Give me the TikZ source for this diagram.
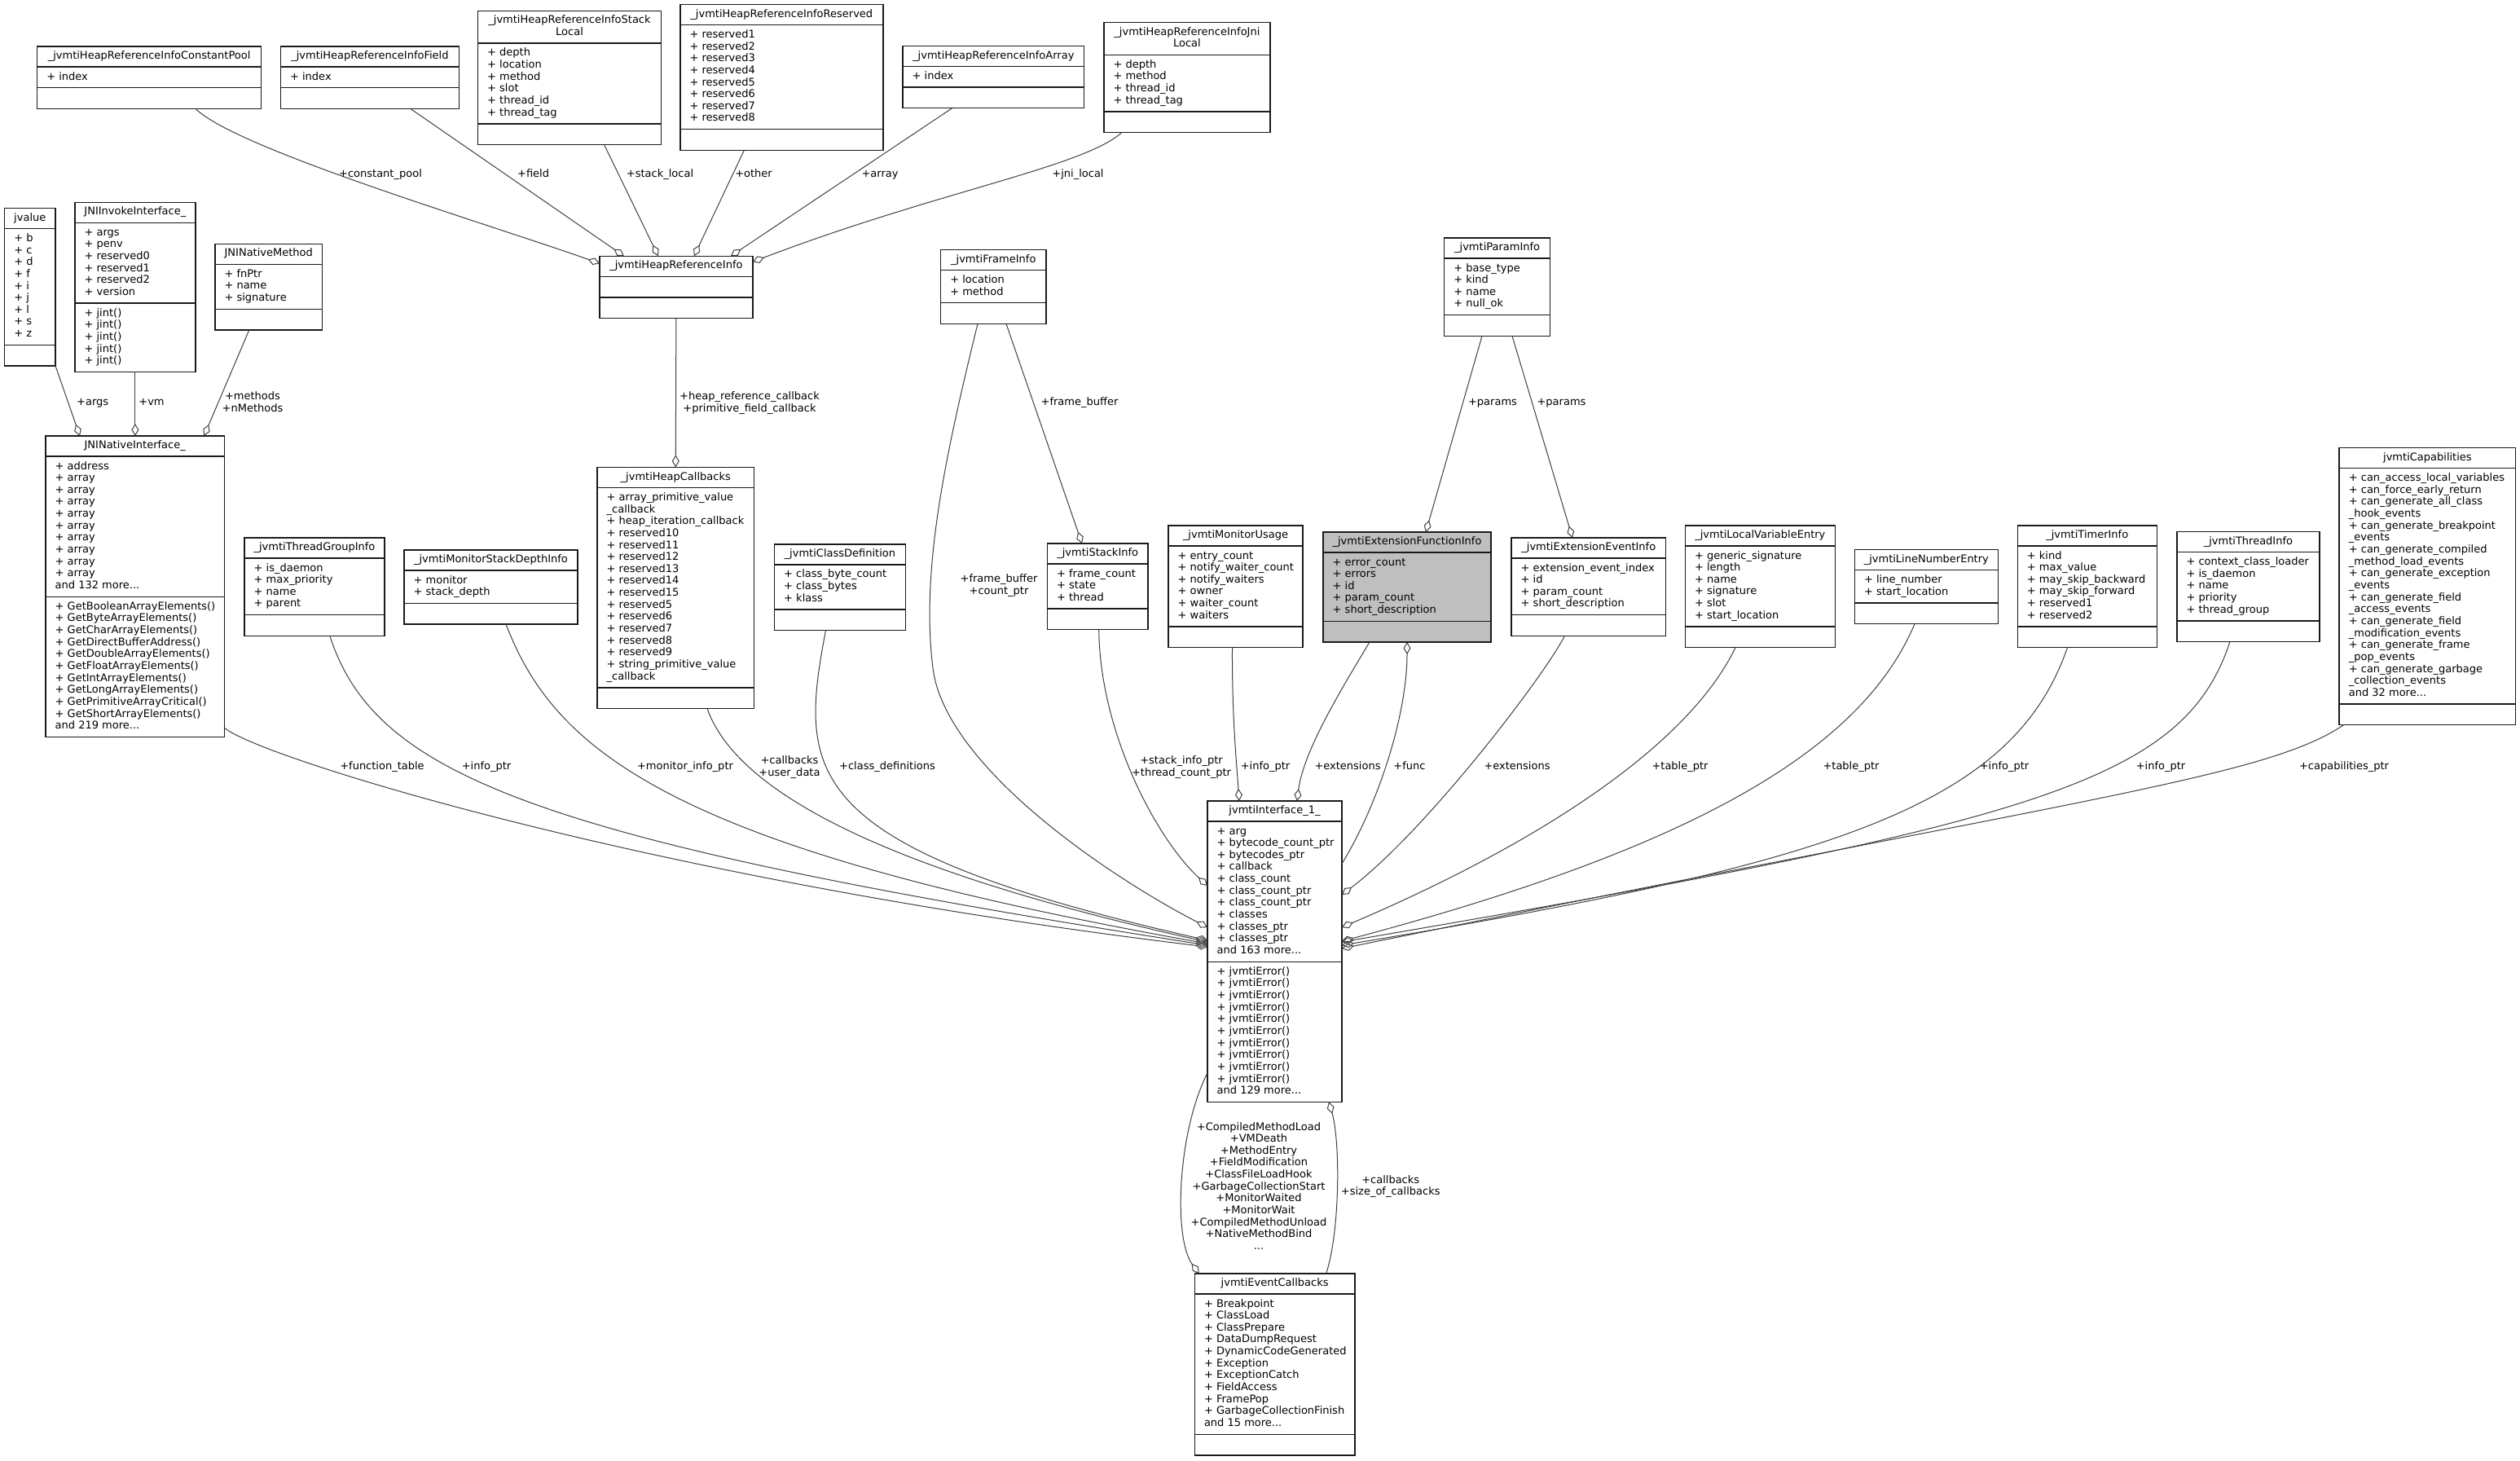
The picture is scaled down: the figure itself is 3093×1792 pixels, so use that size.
\documentclass[tikz,border=0pt]{standalone}
\usepackage{fontspec}
\setmainfont{DejaVu Sans}
\usetikzlibrary{arrows.meta}
\definecolor{edgecol}{HTML}{404040}
\definecolor{boxcol}{HTML}{1A1A1A}
\definecolor{hlfill}{HTML}{BFBFBF}
\newcommand{\umlfont}{\fontsize{13}{14.65}\selectfont}
\tikzset{
  classbox/.style={draw=boxcol, line width=1.4pt, inner sep=0pt, outer sep=0pt},
  sepline/.style={draw=boxcol, line width=1.4pt},
  ctitle/.style={inner sep=0pt, align=center, font=\umlfont},
  cbody/.style={inner sep=0pt, align=left, font=\umlfont, anchor=north west},
  elabel/.style={inner sep=0pt, align=center, font=\umlfont, execute at begin node=\strut, execute at end node=\strut},
  agg/.style={draw=edgecol, line width=1pt, -{Diamond[open, length=15pt, width=9pt]}},
}
\newcommand{\umlclass}[9]{%
  \def\uName{#1}\def\uX{#2}\def\uY{#3}\def\uW{#4}\def\uTL{#5}\def\uTitle{#6}\def\uNA{#7}\def\uAttrs{#8}\def\uNO{#9}%
  \umlclassfinish}
\newcommand{\umlclassfinish}[2][]{%
  \pgfmathsetmacro\uHT{\uTL*14.65+10.4}%
  \pgfmathsetmacro\uHA{max(\uNA,1)*14.65+11}%
  \pgfmathsetmacro\uHO{max(\uNO,1)*14.65+11}%
  \pgfmathsetmacro\uH{\uHT+\uHA+\uHO}%
  \pgfmathsetmacro\uHTA{\uHT+\uHA}%
  \pgfmathsetmacro\uOA{\uHT+5.5}%
  \pgfmathsetmacro\uOB{\uHTA+5.5}%
  \node[classbox, fill=white, #1, minimum width=\uW pt, minimum height=\uH pt, anchor=north west] (\uName) at (\uX,\uY) {};
  \draw[sepline] ([yshift=-\uHT pt]\uName.north west) -- ([yshift=-\uHT pt]\uName.north east);
  \draw[sepline] ([yshift=-\uHTA pt]\uName.north west) -- ([yshift=-\uHTA pt]\uName.north east);
  \node[ctitle, anchor=north] at ([yshift=-5.2pt]\uName.north) {\strut\uTitle\strut};
  \ifnum\uNA>0\relax \node[cbody] at ([xshift=11.5pt,yshift=-\uOA pt]\uName.north west) {\strut\uAttrs\strut};\fi
  \ifnum\uNO>0\relax \node[cbody] at ([xshift=11.5pt,yshift=-\uOB pt]\uName.north west) {\strut#2\strut};\fi
}
\begin{document}
\catcode`\_=12
\begin{tikzpicture}[x=1pt,y=-1pt]
\fill[white] (0,0) rectangle (3093,1792);
\useasboundingbox (0,0) rectangle (3093,1792);

% ---------- classes ----------
\umlclass{cpool}{45.6}{57}{275}{1}{_jvmtiHeapReferenceInfoConstantPool}{1}{+ index}{0}{}
\umlclass{hfield}{344.4}{57}{219}{1}{_jvmtiHeapReferenceInfoField}{1}{+ index}{0}{}
\umlclass{stackl}{586.5}{13.2}{225}{2}{_jvmtiHeapReferenceInfoStack\\Local}{6}{+ depth\\+ location\\+ method\\+ slot\\+ thread_id\\+ thread_tag}{0}{}
\umlclass{hres}{834.8}{5.4}{249}{1}{_jvmtiHeapReferenceInfoReserved}{8}{+ reserved1\\+ reserved2\\+ reserved3\\+ reserved4\\+ reserved5\\+ reserved6\\+ reserved7\\+ reserved8}{0}{}
\umlclass{harray}{1108}{56.4}{222.6}{1}{_jvmtiHeapReferenceInfoArray}{1}{+ index}{0}{}
\umlclass{jnil}{1354.8}{27.5}{204.2}{2}{_jvmtiHeapReferenceInfoJni\\Local}{4}{+ depth\\+ method\\+ thread_id\\+ thread_tag}{0}{}
\umlclass{hri}{735.9}{314.3}{188}{1}{_jvmtiHeapReferenceInfo}{0}{}{0}{}
\umlclass{jvalue}{5.6}{255.4}{62.4}{1}{jvalue}{9}{+ b\\+ c\\+ d\\+ f\\+ i\\+ j\\+ l\\+ s\\+ z}{0}{}
\umlclass{jnii}{91.9}{248.2}{148}{1}{JNIInvokeInterface_}{6}{+ args\\+ penv\\+ reserved0\\+ reserved1\\+ reserved2\\+ version}{5}{+ jint()\\+ jint()\\+ jint()\\+ jint()\\+ jint()}
\umlclass{jnm}{263.8}{299.3}{131.9}{1}{JNINativeMethod}{3}{+ fnPtr\\+ name\\+ signature}{0}{}
\umlclass{jnini}{56}{535}{219.5}{1}{JNINativeInterface_}{11}{+ address\\+ array\\+ array\\+ array\\+ array\\+ array\\+ array\\+ array\\+ array\\+ array\\and 132 more...}{11}{+ GetBooleanArrayElements()\\+ GetByteArrayElements()\\+ GetCharArrayElements()\\+ GetDirectBufferAddress()\\+ GetDoubleArrayElements()\\+ GetFloatArrayElements()\\+ GetIntArrayElements()\\+ GetLongArrayElements()\\+ GetPrimitiveArrayCritical()\\+ GetShortArrayElements()\\and 219 more...}
\umlclass{tgi}{300}{660}{172}{1}{_jvmtiThreadGroupInfo}{4}{+ is_daemon\\+ max_priority\\+ name\\+ parent}{0}{}
\umlclass{msd}{496}{675}{213}{1}{_jvmtiMonitorStackDepthInfo}{2}{+ monitor\\+ stack_depth}{0}{}
\umlclass{heapcb}{733}{573.4}{192.5}{1}{_jvmtiHeapCallbacks}{16}{+ array_primitive_value\\_callback\\+ heap_iteration_callback\\+ reserved10\\+ reserved11\\+ reserved12\\+ reserved13\\+ reserved14\\+ reserved15\\+ reserved5\\+ reserved6\\+ reserved7\\+ reserved8\\+ reserved9\\+ string_primitive_value\\_callback}{0}{}
\umlclass{cdef}{950.5}{667.8}{160.8}{1}{_jvmtiClassDefinition}{3}{+ class_byte_count\\+ class_bytes\\+ klass}{0}{}
\umlclass{frame}{1154.6}{306.4}{129.4}{1}{_jvmtiFrameInfo}{2}{+ location\\+ method}{0}{}
\umlclass{stack}{1285.4}{667}{123.6}{1}{_jvmtiStackInfo}{3}{+ frame_count\\+ state\\+ thread}{0}{}
\umlclass{mon}{1434}{645}{165}{1}{_jvmtiMonitorUsage}{6}{+ entry_count\\+ notify_waiter_count\\+ notify_waiters\\+ owner\\+ waiter_count\\+ waiters}{0}{}
\umlclass{extf}{1624}{653}{206}{1}{_jvmtiExtensionFunctionInfo}{5}{+ error_count\\+ errors\\+ id\\+ param_count\\+ short_description}{0}[fill=hlfill]{}
\umlclass{param}{1772.6}{292}{130.1}{1}{_jvmtiParamInfo}{4}{+ base_type\\+ kind\\+ name\\+ null_ok}{0}{}
\umlclass{exte}{1855}{660}{189.6}{1}{_jvmtiExtensionEventInfo}{4}{+ extension_event_index\\+ id\\+ param_count\\+ short_description}{0}{}
\umlclass{lve}{2068.3}{645}{184}{1}{_jvmtiLocalVariableEntry}{6}{+ generic_signature\\+ length\\+ name\\+ signature\\+ slot\\+ start_location}{0}{}
\umlclass{lne}{2276.3}{674.6}{176}{1}{_jvmtiLineNumberEntry}{2}{+ line_number\\+ start_location}{0}{}
\umlclass{timer}{2476.2}{645}{171}{1}{_jvmtiTimerInfo}{6}{+ kind\\+ max_value\\+ may_skip_backward\\+ may_skip_forward\\+ reserved1\\+ reserved2}{0}{}
\umlclass{thri}{2671.8}{652.5}{175.2}{1}{_jvmtiThreadInfo}{5}{+ context_class_loader\\+ is_daemon\\+ name\\+ priority\\+ thread_group}{0}{}
\umlclass{cap}{2871.1}{549.6}{216.6}{1}{jvmtiCapabilities}{19}{+ can_access_local_variables\\+ can_force_early_return\\+ can_generate_all_class\\_hook_events\\+ can_generate_breakpoint\\_events\\+ can_generate_compiled\\_method_load_events\\+ can_generate_exception\\_events\\+ can_generate_field\\_access_events\\+ can_generate_field\\_modification_events\\+ can_generate_frame\\_pop_events\\+ can_generate_garbage\\_collection_events\\and 32 more...}{0}{}
\umlclass{iface}{1482}{983}{165}{1}{jvmtiInterface_1_}{11}{+ arg\\+ bytecode_count_ptr\\+ bytecodes_ptr\\+ callback\\+ class_count\\+ class_count_ptr\\+ class_count_ptr\\+ classes\\+ classes_ptr\\+ classes_ptr\\and 163 more...}{11}{+ jvmtiError()\\+ jvmtiError()\\+ jvmtiError()\\+ jvmtiError()\\+ jvmtiError()\\+ jvmtiError()\\+ jvmtiError()\\+ jvmtiError()\\+ jvmtiError()\\+ jvmtiError()\\and 129 more...}
\umlclass{evcb}{1466.3}{1563}{196.7}{1}{jvmtiEventCallbacks}{11}{+ Breakpoint\\+ ClassLoad\\+ ClassPrepare\\+ DataDumpRequest\\+ DynamicCodeGenerated\\+ Exception\\+ ExceptionCatch\\+ FieldAccess\\+ FramePop\\+ GarbageCollectionFinish\\and 15 more...}{0}{}

% ---------- connectors ----------
\draw[agg] ([xshift=194.4pt]cpool.south west) .. controls (290,183) and (600,275) .. ([yshift=-9pt]hri.north west);
\draw[agg] ([xshift=159.3pt]hfield.south west) -- ([xshift=30pt]hri.north west);
\draw[agg] ([xshift=155pt]stackl.south west) -- ([xshift=72pt]hri.north west);
\draw[agg] ([xshift=78.6pt]hres.south west) -- ([xshift=116pt]hri.north west);
\draw[agg] ([xshift=60.6pt]harray.south west) -- ([xshift=161pt]hri.north west);
\draw[agg] ([xshift=22.2pt]jnil.south west) .. controls (1330,205) and (1150,235) .. ([yshift=-7pt]hri.north east);
\draw[agg] (jvalue.south east) -- ([xshift=42pt]jnini.north west);
\draw[agg] (jnii.south) -- ([xshift=109.9pt]jnini.north west);
\draw[agg] ([xshift=42pt]jnm.south west) -- ([xshift=194.4pt]jnini.north west);
\draw[agg] (hri.south) -- (heapcb.north);

\draw[agg] ([xshift=45.4pt]frame.south west) .. controls (1160,560) and (1130,700) .. (1145,820) .. controls (1160,940) and (1360,1075) .. ([yshift=-155pt]iface.north west);
\draw[agg] ([xshift=80.4pt]frame.south west) -- ([xshift=42.6pt]stack.north west);
\draw[agg] ([xshift=63.3pt]stack.south west) .. controls (1350,900) and (1420,1030) .. ([yshift=-104pt]iface.north west);
\draw[agg] ([xshift=78.5pt]mon.south west) .. controls (1512,880) and (1518,940) .. ([xshift=39pt]iface.north west);
\draw[agg] ([xshift=57pt]extf.south west) .. controls (1650,840) and (1600,920) .. ([xshift=110pt]iface.north west);
\draw[agg] ([yshift=-77pt]iface.north east) .. controls (1690,990) and (1727,880) .. ([xshift=103pt]extf.south west);
\draw[agg] ([xshift=46.4pt]param.south west) -- ([xshift=126pt]extf.north west);
\draw[agg] ([xshift=83.4pt]param.south west) -- ([xshift=75pt]exte.north west);
\draw[agg] ([xshift=65.5pt]exte.south west) .. controls (1895,830) and (1750,1020) .. ([yshift=-115pt]iface.north east);
\draw[agg] ([xshift=61.7pt]lve.south west) .. controls (2075,910) and (1900,1030) .. ([yshift=-155pt]iface.north east);
\draw[agg] ([xshift=73.7pt]lne.south west) .. controls (2285,920) and (2080,1040) .. ([yshift=-172pt]iface.north east);
\draw[agg] ([xshift=61.3pt]timer.south west) .. controls (2470,990) and (2250,1060) .. ([yshift=-177pt]iface.north east);
\draw[agg] ([xshift=65.2pt]thri.south west) .. controls (2680,960) and (2500,1010) .. ([yshift=-173pt]iface.north east);
\draw[agg] ([xshift=5.4pt]cap.south west) .. controls (2780,955) and (2550,980) .. ([yshift=-181pt]iface.north east);

\draw[agg] ([yshift=11pt]jnini.south east) .. controls (320,930) and (800,1080) .. ([yshift=-179pt]iface.north west);
\draw[agg] ([xshift=104.8pt]tgi.south west) .. controls (460,950) and (650,1030) .. ([yshift=-177pt]iface.north west);
\draw[agg] ([xshift=125pt]msd.south west) .. controls (680,920) and (820,1040) .. ([yshift=-175pt]iface.north west);
\draw[agg] ([xshift=135pt]heapcb.south west) .. controls (900,960) and (1050,1060) .. ([yshift=-173pt]iface.north west);
\draw[agg] ([xshift=63pt]cdef.south west) .. controls (980,950) and (980,1040) .. ([yshift=-171pt]iface.north west);

\draw[agg] ([yshift=35.6pt]iface.south west) .. controls (1445,1390) and (1440,1520) .. ([xshift=5.4pt]evcb.north west);
\draw[agg] ([xshift=161.4pt]evcb.north west) .. controls (1645,1510) and (1645,1400) .. ([xshift=149pt]iface.south west);

% ---------- labels ----------
\node[elabel] (lcp) at (467,215) {+constant_pool};
\node[elabel] (lfi) at (654.6,215) {+field};
\node[elabel] (lsl) at (810,215) {+stack_local};
\node[elabel] (lot) at (925,215) {+other};
\node[elabel] (lar) at (1080,215) {+array};
\node[elabel] (ljl) at (1323,215) {+jni_local};
\node[elabel] (lag) at (113.7,495) {+args};
\node[elabel] (lvm) at (186,495) {+vm};
\node[elabel] (lme) at (310,495) {+methods\\+nMethods};
\node[elabel] (lhr) at (920,495) {+heap_reference_callback\\+primitive_field_callback};
\node[elabel] (lfb) at (1325,494.6) {+frame_buffer};
\node[elabel] (lp1) at (1832,494.6) {+params};
\node[elabel] (lp2) at (1916.5,494.6) {+params};
\node[elabel] (lfc) at (1226,719) {+frame_buffer\\+count_ptr};
\node[elabel] (lsi) at (1450,942.5) {+stack_info_ptr\\+thread_count_ptr};
\node[elabel] (lip) at (1553,942) {+info_ptr};
\node[elabel] (lex) at (1654,942) {+extensions};
\node[elabel] (lfu) at (1730,942) {+func};
\node[elabel] (lex2) at (1862,942) {+extensions};
\node[elabel] (ltp1) at (2062,942) {+table_ptr};
\node[elabel] (ltp2) at (2272,942) {+table_ptr};
\node[elabel] (lip2) at (2460,942) {+info_ptr};
\node[elabel] (lip3) at (2652,942) {+info_ptr};
\node[elabel] (lcap) at (2877,942) {+capabilities_ptr};
\node[elabel] (lft) at (469,942) {+function_table};
\node[elabel] (lip4) at (597,942) {+info_ptr};
\node[elabel] (lmi) at (841,942) {+monitor_info_ptr};
\node[elabel] (lcb) at (969,942.5) {+callbacks\\+user_data};
\node[elabel] (lcd) at (1089,942) {+class_definitions};
\node[elabel] (lev) at (1545,1457.5) {+CompiledMethodLoad\\+VMDeath\\+MethodEntry\\+FieldModification\\+ClassFileLoadHook\\+GarbageCollectionStart\\+MonitorWaited\\+MonitorWait\\+CompiledMethodUnload\\+NativeMethodBind\\...};
\node[elabel] (lcs) at (1706.7,1456.8) {+callbacks\\+size_of_callbacks};
\end{tikzpicture}
\end{document}
